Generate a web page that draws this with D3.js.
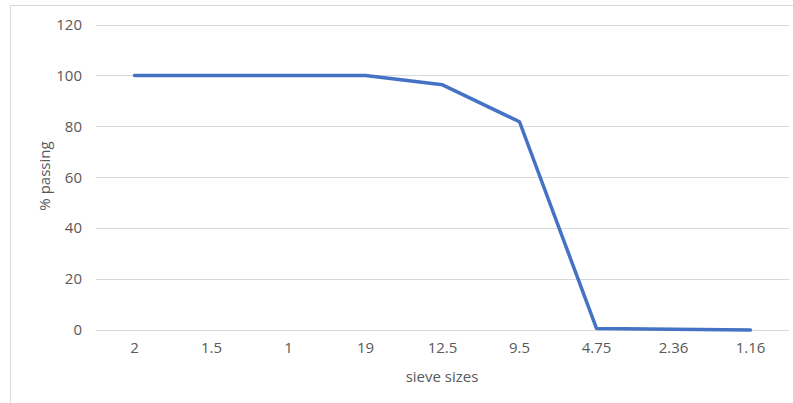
<!DOCTYPE html>
<html><head><meta charset="utf-8">
<script src="https://cdn.jsdelivr.net/npm/d3@7"></script>
<style>body{margin:0;background:#fff}svg{display:block}text{font-family:"Open Sans","Noto Sans",sans-serif}</style>
</head><body>
<svg id="c" width="793" height="403"></svg>
<script>
const categories = ["2","1.5","1","19","12.5","9.5","4.75","2.36","1.16"];
const passing = [100,100,100,100,96.3,81.8,0.6,0.3,0];
const yTicks = [0,20,40,60,80,100,120];
const xTitle = "sieve sizes";
const yTitle = "% passing";

const svg = d3.select("#c");
svg.append("rect").attr("x",10.5).attr("y",5.5).attr("width",800).attr("height",420)
  .attr("fill","#fff").attr("stroke","#d9d9d9").attr("stroke-width",1);

const L=96, R=789, T=24.5, B=330;
const x = d3.scaleBand().domain(categories).range([L,R]);
const y = d3.scaleLinear().domain([0,120]).range([B,T]);

svg.append("g").selectAll("line").data(yTicks).join("line")
  .attr("x1",L).attr("x2",R).attr("y1",d=>Math.round(y(d))+0.5).attr("y2",d=>Math.round(y(d))+0.5)
  .attr("stroke","#d9d9d9").attr("stroke-width",1);

const yAxis = svg.append("g").attr("transform",`translate(${L},0)`)
  .call(d3.axisLeft(y).tickValues(yTicks).tickSize(0).tickPadding(14));
yAxis.select(".domain").remove();
yAxis.selectAll("text").attr("fill","#595959").style("font-size","15px");

const xAxis = svg.append("g").attr("transform",`translate(0,${B})`)
  .call(d3.axisBottom(x).tickSize(0).tickPadding(12));
xAxis.select(".domain").remove();
xAxis.selectAll("text").attr("fill","#595959").style("font-size","15px");

const line = d3.line().x((d,i)=>x(categories[i])+x.bandwidth()/2).y(d=>y(d));
svg.append("path").datum(passing).attr("d",line).attr("fill","none")
  .attr("stroke","#4472C4").attr("stroke-width",3.5).attr("stroke-linejoin","round").attr("stroke-linecap","round");

svg.append("text").attr("x",442).attr("y",382).attr("text-anchor","middle")
  .attr("fill","#595959").style("font-size","15px").text(xTitle);
svg.append("text").attr("transform",`translate(50,176) rotate(-90)`).attr("text-anchor","middle")
  .attr("fill","#595959").style("font-size","15px").text(yTitle);
</script>
</body></html>
